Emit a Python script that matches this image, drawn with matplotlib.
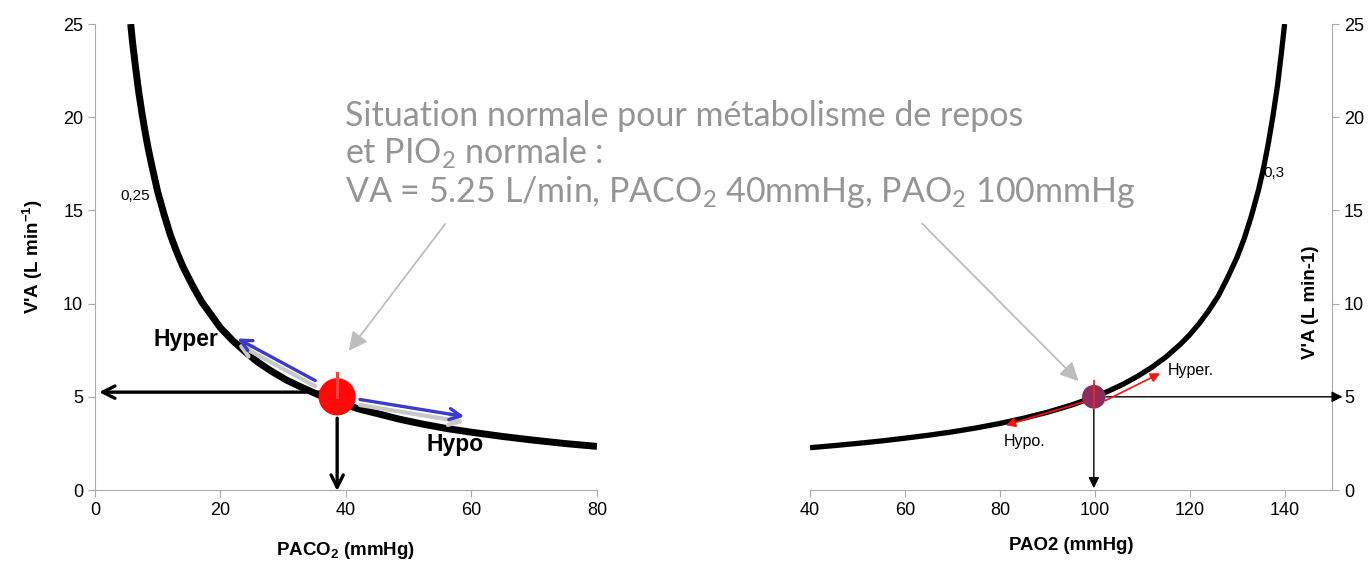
import matplotlib
matplotlib.use('Agg')
import matplotlib.pyplot as plt

plt.rcParams['font.family'] = ['Liberation Sans', 'DejaVu Sans']
plt.rcParams['mathtext.default'] = 'regular'

# left panel: alveolar ventilation against PACO2
paco2 = [5.7, 6.0, 6.5, 7.0, 7.5, 8.0, 8.5, 9.0, 10, 11, 12, 13, 14, 15.5, 17,
         18.5, 20, 22, 24, 26, 28, 30.5, 33, 36, 39, 42, 45, 48.5, 52, 56, 60,
         65, 70, 75, 80]
va_co2 = [25.0, 24.0, 22.6, 21.3, 20.2, 19.2, 18.3, 17.5, 16.0, 14.8, 13.7,
          12.8, 12.0, 11.0, 10.1, 9.4, 8.7, 8.0, 7.4, 6.85, 6.4, 5.9, 5.5,
          5.05, 4.7, 4.35, 4.1, 3.8, 3.55, 3.3, 3.1, 2.87, 2.67, 2.49, 2.34]

# right panel: alveolar ventilation against PAO2
pao2 = [40, 45, 50, 55, 60, 65, 70, 75, 80, 85, 90, 95, 100, 103, 106, 109,
        112, 115, 118, 120, 122, 124, 126, 128, 130, 131.5, 133, 134.5, 135.5,
        136.5, 137.5, 138.5, 139.3, 140]
va_o2 = [2.27, 2.38, 2.5, 2.63, 2.78, 2.94, 3.12, 3.33, 3.57, 3.85, 4.17, 4.55,
         5.0, 5.32, 5.68, 6.1, 6.58, 7.14, 7.81, 8.33, 8.93, 9.62, 10.4, 11.4,
         12.5, 13.5, 14.7, 16.1, 17.2, 18.5, 20.0, 21.7, 23.4, 25.0]

# normal resting point
co2_point = (38.6, 5.0)
o2_point = (99.8, 5.0)
va_normal = 5.25

# direction arrows (tail, tip)
hyper_co2 = ((35.5, 5.8), (22.3, 8.2))
hypo_co2 = ((41.8, 4.88), (59.3, 3.92))
hyper_o2 = ((101.7, 4.73), (114.3, 6.33))
hypo_o2 = ((98.6, 4.8), (80.7, 3.43))

fig = plt.figure(figsize=(13.72, 5.64), dpi=100)
axl = fig.add_axes([0.0692, 0.1312, 0.3659, 0.8262])
axr = fig.add_axes([0.5904, 0.1312, 0.3805, 0.8262])

spine_col = '#aaaaaa'

# ---------- left ----------
axl.plot(paco2, va_co2, color='black', lw=5.0, solid_capstyle='butt',
         solid_joinstyle='round', zorder=2)
axl.set_xlim(0, 80)
axl.set_ylim(0, 25)
axl.set_xticks([0, 20, 40, 60, 80])
axl.set_yticks([0, 5, 10, 15, 20, 25])
for s in ['top', 'right']:
    axl.spines[s].set_visible(False)
for s in ['left', 'bottom']:
    axl.spines[s].set_color(spine_col)
axl.tick_params(colors=spine_col, labelcolor='black', labelsize=13, length=5)
axl.set_xlabel('PACO$_2$ (mmHg)', fontsize=13.5, fontweight='bold', labelpad=15)
axl.set_ylabel("V'A (L min$^{-1}$)", fontsize=13.5, fontweight='bold', labelpad=13)

# black arrows to the axes
axl.annotate('', xy=(0.2, va_normal), xytext=(co2_point[0] - 2, va_normal),
             arrowprops=dict(arrowstyle='->', lw=2.4, color='black', mutation_scale=22),
             zorder=3)
axl.annotate('', xy=(co2_point[0], -0.2), xytext=(co2_point[0], co2_point[1] - 1),
             arrowprops=dict(arrowstyle='->', lw=2.4, color='black', mutation_scale=22),
             annotation_clip=False, zorder=3)

# blue arrows with a soft shadow
for (tail, tip) in [hyper_co2, hypo_co2]:
    axl.annotate('', xy=(tip[0], tip[1] - 0.3), xytext=(tail[0], tail[1] - 0.3),
                 arrowprops=dict(arrowstyle='->', lw=3.0, color='#c8c8c8', mutation_scale=20),
                 zorder=3)
    axl.annotate('', xy=tip, xytext=tail,
                 arrowprops=dict(arrowstyle='->', lw=2.4, color='#3a3acc', mutation_scale=20),
                 zorder=4)

axl.scatter([co2_point[0]], [co2_point[1]], s=720, color='#ff0a0a', zorder=5, edgecolors='none')
axl.plot([co2_point[0], co2_point[0]], [co2_point[1], 6.3], color='#ff4040', lw=2.2, zorder=6)

axl.text(14.5, 8.05, 'Hyper', fontsize=16.5, fontweight='bold', ha='center', va='center')
axl.text(57.4, 2.45, 'Hypo', fontsize=16.5, fontweight='bold', ha='center', va='center')
axl.text(6.4, 15.8, '0,25', fontsize=11, ha='center', va='center')

# grey pointer to the normal point
axl.annotate('', xy=(40.2, 7.35), xytext=(56.1, 14.4),
             arrowprops=dict(arrowstyle='-|>', lw=1.3, color='#bdbdbd', mutation_scale=28),
             annotation_clip=False)

# ---------- right ----------
axr.plot(pao2, va_o2, color='black', lw=3.8, solid_capstyle='butt',
         solid_joinstyle='round', zorder=2)
axr.set_xlim(40, 150)
axr.set_ylim(0, 25)
axr.set_xticks([40, 60, 80, 100, 120, 140])
axr.set_yticks([0, 5, 10, 15, 20, 25])
axr.yaxis.tick_right()
for s in ['top', 'left']:
    axr.spines[s].set_visible(False)
for s in ['right', 'bottom']:
    axr.spines[s].set_color(spine_col)
axr.tick_params(colors=spine_col, labelcolor='black', labelsize=13, length=5)
axr.set_xlabel('PAO2 (mmHg)', fontsize=13.4, fontweight='bold', labelpad=13)
axr.text(0.958, 0.403, "V'A (L min-1)", transform=axr.transAxes, rotation=90,
         fontsize=13.5, fontweight='bold', ha='center', va='center')

axr.annotate('', xy=(152.8, o2_point[1]), xytext=(o2_point[0] + 2, o2_point[1]),
             arrowprops=dict(arrowstyle='-|>', lw=1.0, color='black', mutation_scale=16),
             annotation_clip=False, zorder=3)
axr.annotate('', xy=(o2_point[0], -0.05), xytext=(o2_point[0], o2_point[1] - 0.5),
             arrowprops=dict(arrowstyle='-|>', lw=1.0, color='black', mutation_scale=16),
             annotation_clip=False, zorder=3)

axr.scatter([o2_point[0]], [o2_point[1]], s=290, color='#8c2d5e', zorder=4, edgecolors='none')
axr.plot([o2_point[0], o2_point[0]], [4.45, 5.85], color='#ff2020', lw=1.3, zorder=5)

for (tail, tip) in [hyper_o2, hypo_o2]:
    axr.annotate('', xy=tip, xytext=tail,
                 arrowprops=dict(arrowstyle='-|>', lw=1.2, color='#ff1010', mutation_scale=14),
                 zorder=6)

axr.text(115.3, 6.4, 'Hyper.', fontsize=11.5, ha='left', va='center')
axr.text(80.8, 2.6, 'Hypo.', fontsize=11.5, ha='left', va='center')
axr.text(135.6, 17.0, '0,3', fontsize=11, ha='left', va='center')

axr.annotate('', xy=(97.0, 5.74), xytext=(63.2, 14.4),
             arrowprops=dict(arrowstyle='-|>', lw=1.3, color='#bdbdbd', mutation_scale=28),
             annotation_clip=False)

# ---------- central note ----------
note = ('Situation normale pour métabolisme de repos\n'
        'et PIO$_2$ normale :\n'
        'VA = 5.25 L/min, PACO$_2$ 40mmHg, PAO$_2$ 100mmHg')
fig.text(345 / 1372, 1 - 100 / 564, note, family=['Lato', 'DejaVu Sans'],
         fontweight='normal', fontsize=24.5, color='#959595', va='top', ha='left',
         linespacing=1.12)

fig.savefig('out.png', dpi=100)
